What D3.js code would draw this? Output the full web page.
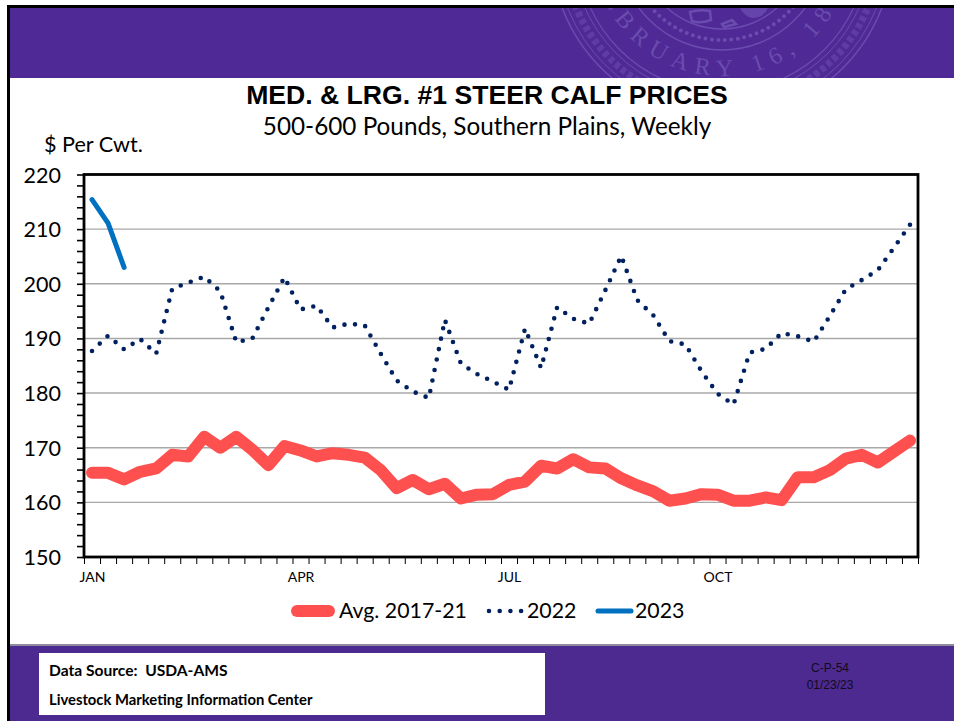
<!DOCTYPE html>
<html><head><meta charset="utf-8">
<script src="https://cdn.jsdelivr.net/npm/d3@7"></script>
<style>html,body{margin:0;padding:0;background:#fff}svg{display:block}text{font-family:Lato,sans-serif;fill:#000;white-space:pre}</style>
</head><body><svg id="c" width="954" height="721"></svg>
<script>
const avg=[165.4,165.4,164.2,165.6,166.2,168.7,168.4,172.0,170.0,172.0,169.6,166.8,170.3,169.5,168.4,169.0,168.7,168.2,165.9,162.6,164.1,162.4,163.4,160.7,161.4,161.5,163.2,163.8,166.7,166.2,167.9,166.4,166.2,164.4,163.1,162.0,160.3,160.7,161.5,161.4,160.3,160.3,160.9,160.4,164.6,164.6,165.9,168.0,168.7,167.3,169.3,171.3];
const y2022=[187.7,190.5,188.0,189.9,187.2,199.1,200.2,201.3,198.6,189.3,190.0,195.7,201.2,195.3,196.0,192.0,192.7,192.4,187.2,182.3,180.3,179.1,193.4,185.4,183.5,182.1,180.6,191.8,184.6,195.7,193.6,192.7,198.8,205.1,197.0,194.2,189.5,188.9,184.0,179.9,177.9,187.4,188.1,191.0,190.4,189.4,194.1,199.0,200.7,202.5,206.6,210.8];
const y2023=[215.4,211.1,203.0];
const yTicks=[150,160,170,180,190,200,210,220];
const yMinor=[150,152,154,156,158,160,162,164,166,168,170,172,174,176,178,180,182,184,186,188,190,192,194,196,198,200,202,204,206,208,210,212,214,216,218,220];
const monthLabels=["JAN","APR","JUL","OCT"];
const monthWeeks=[0,13,26,39];
const legendNames=["Avg. 2017-21","2022","2023"];

const svg=d3.select("#c");
const PURPLE="#4f2a96",SEAL="#6a4cae";
// page frame
svg.append("rect").attr("x",7).attr("y",5).attr("width",947).attr("height",3).attr("fill","#000");
svg.append("rect").attr("x",7).attr("y",5).attr("width",3).attr("height",716).attr("fill","#000");
const page=svg.append("g");
page.append("rect").attr("x",10).attr("y",8).attr("width",944).attr("height",70).attr("fill",PURPLE);
page.append("rect").attr("x",10).attr("y",644).attr("width",944).attr("height",2).attr("fill","#8f8a9c");
page.append("rect").attr("x",10).attr("y",646).attr("width",944).attr("height",75).attr("fill","#4d2a90");
// seal watermark
svg.append("clipPath").attr("id","hc").append("rect").attr("x",10).attr("y",8).attr("width",944).attr("height",70);
const seal=svg.append("g").attr("clip-path","url(#hc)");
const cx=722,cy=-53;
[[171,1.5],[166,1],[150,1],[145,1.2],[103,1.4],[82,1.4]].forEach(([r,w])=>seal.append("circle").attr("cx",cx).attr("cy",cy).attr("r",r).attr("fill","none").attr("stroke",SEAL).attr("stroke-width",w));
seal.append("circle").attr("cx",cx).attr("cy",cy).attr("r",158).attr("fill","none").attr("stroke",SEAL).attr("stroke-width",7).attr("stroke-dasharray","5 3").attr("opacity",.55);
seal.append("circle").attr("cx",cx).attr("cy",cy).attr("r",93).attr("fill","none").attr("stroke",SEAL).attr("stroke-width",4).attr("stroke-linecap","round").attr("stroke-dasharray","0 6.5");
svg.append("defs").append("path").attr("id","arc").attr("d",`M${cx-129},${cy} A129,129 0 0 0 ${cx+129},${cy}`);
seal.append("text").style("font-family","'Liberation Serif',serif").style("font-size","24px").style("letter-spacing","8px").style("fill",SEAL)
  .append("textPath").attr("href","#arc").attr("startOffset","13%").text("EBRUARY 16, 18");
seal.append("path").attr("d","M690,12 Q700,9 710,11 L711,20 Q700,24 692,21Z M722,24 L732,20 L736,24 L724,27Z").attr("fill","none").attr("stroke",SEAL).attr("stroke-width",2.5);
seal.append("path").attr("d","M740,8 H768 Q764,18 752,18 Q744,16 740,8Z").attr("fill",SEAL).attr("opacity",.8);

// titles
svg.append("text").attr("x",487).attr("y",104).attr("text-anchor","middle").style("font-family","'Liberation Sans',Arial,sans-serif").style("font-weight","700").style("font-size","26.6px").text("MED. & LRG. #1 STEER CALF PRICES");
svg.append("text").attr("x",487).attr("y",135).attr("text-anchor","middle").style("font-size","24.3px").text("500-600 Pounds, Southern Plains, Weekly");
svg.append("text").attr("x",44).attr("y",152).style("font-size","21.6px").text("$ Per Cwt.");

// scales
const L=84,R=918,T=174.5,B=557;
const x=d3.scaleLinear().domain([0,52]).range([L,R]);
const y=d3.scaleLinear().domain([150,220]).range([B,T]);
// grid
svg.append("g").selectAll("line").data(yTicks.slice(1,-1)).join("line")
  .attr("x1",L).attr("x2",R).attr("y1",d=>y(d)).attr("y2",d=>y(d)).attr("stroke","#a8a8a8").attr("stroke-width",1.4);
// axes
const ya=svg.append("g").attr("transform",`translate(${L},0)`).call(d3.axisLeft(y).tickValues(yMinor).tickSize(7).tickFormat(d=>yTicks.includes(d)?d:""));
ya.select(".domain").remove();
ya.selectAll("line").attr("stroke","#000").attr("stroke-width",1.6);
ya.selectAll("text").attr("x",-23).attr("dy","0.35em").style("font-size","21.5px");
const xa=svg.append("g").attr("transform",`translate(0,${B})`).call(d3.axisBottom(x).tickValues(d3.range(53)).tickSize(7).tickFormat(""));
xa.select(".domain").remove();
xa.selectAll("line").attr("stroke","#000").attr("stroke-width",1);
const xl=svg.append("g").attr("transform",`translate(0,${B})`).call(d3.axisBottom(x).tickValues(monthWeeks.map(d=>d+.5)).tickSize(0).tickFormat((d,i)=>monthLabels[i]));
xl.select(".domain").remove();
xl.selectAll("text").attr("y",15).attr("dy","0.71em").style("font-size","14px");
svg.append("rect").attr("x",L).attr("y",T).attr("width",R-L).attr("height",B-T).attr("fill","none").attr("stroke","#000").attr("stroke-width",2.8);

// series
const line=d3.line().x((d,i)=>x(i+.5)).y(d=>y(d));
const styles=[
 {c:"#ff5050",w:12,cap:"round",dash:null},
 {c:"#002060",w:4.6,cap:"round",dash:"0 10.7"},
 {c:"#0070c0",w:5,cap:"round",dash:null}];
const sdata=[avg,y2022,y2023];
sdata.forEach((d,k)=>{const s=styles[k];
 const p=svg.append("path").datum(d).attr("d",line).attr("fill","none").attr("stroke",s.c).attr("stroke-width",s.w).attr("stroke-linecap",s.cap).attr("stroke-linejoin","round");
 if(s.dash){const len=p.node().getTotalLength();p.attr("stroke-dasharray",`0 ${len/Math.round(len/10.7)}`);}
});
// legend
const lg=[[297,329,339],[489,522,527],[598,631,635]];
legendNames.forEach((n,k)=>{const s=styles[k],g=svg.append("g");
 g.append("line").attr("x1",lg[k][0]).attr("x2",lg[k][1]).attr("y1",611).attr("y2",611).attr("stroke",s.c).attr("stroke-width",s.w).attr("stroke-linecap",s.cap).attr("stroke-dasharray",s.dash);
 g.append("text").attr("x",lg[k][2]).attr("y",618).style("font-size","21.3px").text(n);
});
// footer
svg.append("rect").attr("x",39).attr("y",653).attr("width",506).attr("height",62).attr("fill","#fff");
svg.append("text").attr("x",49).attr("y",676).style("font-size","15.6px").style("font-weight","700").text("Data Source:  USDA-AMS");
svg.append("text").attr("x",49).attr("y",705).style("font-size","14.8px").style("font-weight","700").text("Livestock Marketing Information Center");
[["C-P-54",672],["01/23/23",689]].forEach(([t,yy])=>svg.append("text").attr("x",830).attr("y",yy).attr("text-anchor","middle").style("font-family","'Liberation Sans',Arial,sans-serif").style("font-size","12px").style("fill","#100c20").text(t));
</script></body></html>
